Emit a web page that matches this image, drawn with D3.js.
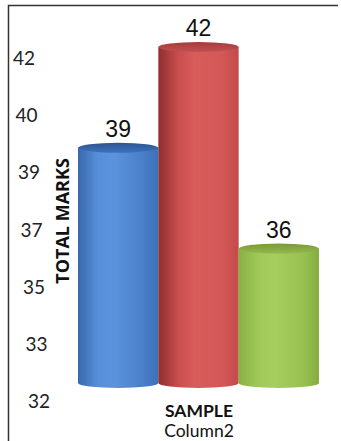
<!DOCTYPE html>
<html>
<head>
<meta charset="utf-8">
<script src="https://cdn.jsdelivr.net/npm/d3@7"></script>
<style>
  html, body { margin: 0; padding: 0; background: #fff; }
  svg { display: block; }
</style>
</head>
<body>
<script>
// ---- data ----
const categories = ["A", "B", "C"];
const values = [39, 42, 36];
const tickLabels = ["42", "40", "39", "37", "35", "33", "32"];
const yAxisTitle = "TOTAL MARKS";
const xTitle = "SAMPLE";
const xSubtitle = "Column2";

// ---- styles ----
const palettes = [
  { stops: ["#3a68ad", "#5790da", "#5b93dc", "#4a80c9", "#3d70b8"], top: ["#2b5592", "#3f72b9"] },
  { stops: ["#8e2e30", "#c84e4e", "#d75c5a", "#d35857", "#c24b4a"], top: ["#a53b3c", "#c25150"] },
  { stops: ["#89b043", "#a0c95a", "#a6ce5f", "#98c152", "#86ac40"], top: ["#7a9a37", "#93b84c"] }
];

const W = 341, H = 441;
const svg = d3.select("body").append("svg").attr("width", W).attr("height", H);
const defs = svg.append("defs");

palettes.forEach((p, i) => {
  const g = defs.append("linearGradient").attr("id", "body" + i)
    .attr("x1", "0%").attr("x2", "100%").attr("y1", "0%").attr("y2", "0%");
  const offs = [0, 0.25, 0.45, 0.8, 1];
  p.stops.forEach((c, k) => g.append("stop").attr("offset", offs[k]).attr("stop-color", c));
  const t = defs.append("linearGradient").attr("id", "top" + i)
    .attr("x1", "0%").attr("x2", "0%").attr("y1", "0%").attr("y2", "100%");
  t.append("stop").attr("offset", 0).attr("stop-color", p.top[0]);
  t.append("stop").attr("offset", 1).attr("stop-color", p.top[1]);
});

// frame (top + left lines)
svg.append("path").attr("d", "M8.5,441 L8.5,5.5 L338,5.5")
  .attr("fill", "none").attr("stroke", "#333").attr("stroke-width", 1.5);

// ---- scales ----
const x = d3.scaleBand().domain(categories).range([78, 319]).padding(0);
const y = d3.scaleLinear().domain([32, 42]).range([383, 47]);
const ry = 5;

// cylinders
const bars = svg.append("g").selectAll("g.bar").data(values).join("g").attr("class", "bar");
bars.append("path")
  .attr("d", (d, i) => {
    const x0 = x(categories[i]), x1 = x0 + x.bandwidth();
    const rx = x.bandwidth() / 2;
    const yt = y(d), yb = y(32);
    return `M${x0},${yt} L${x0},${yb} A${rx},${ry} 0 0 0 ${x1},${yb} L${x1},${yt} Z`;
  })
  .attr("fill", (d, i) => `url(#body${i})`);
bars.append("ellipse")
  .attr("cx", (d, i) => x(categories[i]) + x.bandwidth() / 2)
  .attr("cy", d => y(d))
  .attr("rx", x.bandwidth() / 2)
  .attr("ry", ry)
  .attr("fill", (d, i) => `url(#top${i})`);

// value labels
svg.append("g").selectAll("text").data(values).join("text")
  .attr("x", (d, i) => x(categories[i]) + x.bandwidth() / 2)
  .attr("y", d => y(d) - 11)
  .attr("text-anchor", "middle")
  .attr("font-family", "'Liberation Sans', Arial, sans-serif")
  .attr("font-size", 23)
  .attr("fill", "#111")
  .text(d => d);

// y tick labels (as drawn in reference)
const yTick = d3.scalePoint().domain(tickLabels).range([58, 401]);
const shift = d3.scaleLinear().domain([58, 401]).range([24, 39]);
const axis = svg.append("g").call(d3.axisLeft(yTick).tickSize(0));
axis.select(".domain").remove();
axis.selectAll("text")
  .attr("x", d => shift(yTick(d)))
  .attr("dy", "0.35em")
  .attr("text-anchor", "middle")
  .attr("font-family", "Lato, 'Open Sans', sans-serif")
  .attr("font-size", 19)
  .attr("fill", "#222");

// axis title
svg.append("text")
  .attr("transform", "translate(69,221) rotate(-90)")
  .attr("text-anchor", "middle")
  .attr("font-family", "'Open Sans', sans-serif")
  .attr("font-weight", "bold")
  .attr("font-size", 18)
  .attr("fill", "#111")
  .text(yAxisTitle);

svg.append("text")
  .attr("x", 199).attr("y", 417)
  .attr("text-anchor", "middle")
  .attr("font-family", "Lato, 'Open Sans', sans-serif")
  .attr("font-weight", "bold")
  .attr("font-size", 17.5)
  .attr("fill", "#111")
  .text(xTitle);

svg.append("text")
  .attr("x", 199).attr("y", 437)
  .attr("text-anchor", "middle")
  .attr("font-family", "Lato, 'Open Sans', sans-serif")
  .attr("font-size", 17.5)
  .attr("fill", "#111")
  .text(xSubtitle);
</script>
</body>
</html>
